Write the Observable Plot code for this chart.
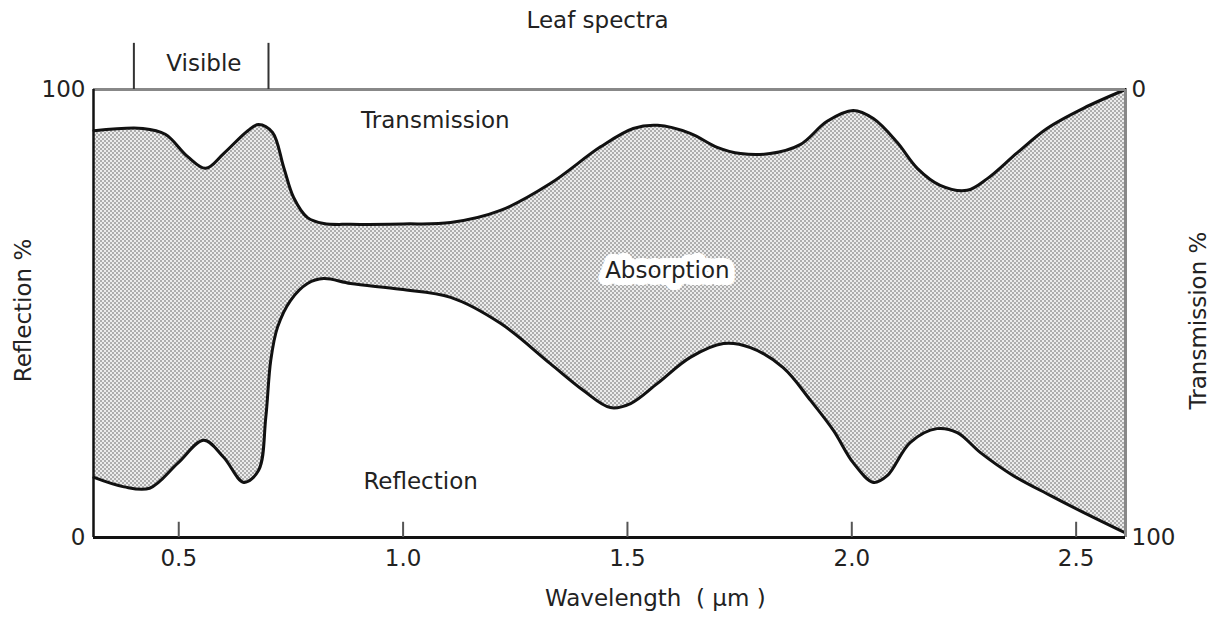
<!DOCTYPE html>
<html>
<head>
<meta charset="utf-8">
<script src="https://cdn.jsdelivr.net/npm/d3@7"></script>
<script src="https://cdn.jsdelivr.net/npm/@observablehq/plot@0.6"></script>
<style>
  body { margin: 0; background: white; font-family: "DejaVu Sans", sans-serif; }
  #title { height: 40px; line-height: 40px; font-size: 23px; text-align: center; padding-right: 26px; color: #222; }
</style>
</head>
<body>
<div id="title">Leaf spectra</div>
<div id="chart"></div>
<script>
// Upper boundary: transmission % (read on the right axis, 100 at bottom)
const transWl = [0.311,0.420,0.470,0.520,0.560,0.600,0.654,0.678,0.709,0.734,0.756,0.787,0.823,0.883,1.0,1.106,1.217,1.328,1.440,1.513,1.567,1.640,1.700,1.752,1.818,1.885,1.945,2.003,2.048,2.101,2.146,2.197,2.257,2.302,2.369,2.435,2.516,2.61];
const transPct = [9.2,8.7,10.0,15.0,17.6,14.3,9.2,7.8,9.6,17.4,24.1,28.6,29.9,30.1,30.0,29.7,27.0,21.0,12.8,8.7,8.0,9.8,12.9,14.3,14.3,12.3,7.1,4.7,6.5,11.8,17.6,21.4,22.5,19.9,14.1,8.7,4.2,0];
// Lower boundary: reflection % (left axis)
const reflWl = [0.311,0.378,0.435,0.498,0.556,0.600,0.645,0.678,0.694,0.705,0.720,0.749,0.787,0.823,0.883,0.994,1.106,1.217,1.328,1.402,1.462,1.507,1.567,1.640,1.714,1.774,1.847,1.908,1.959,2.003,2.048,2.079,2.130,2.190,2.235,2.286,2.360,2.442,2.516,2.61];
const reflPct = [13.4,11.3,11.0,16.6,21.7,17.9,12.3,15.0,26.8,39.5,46.9,52.9,56.7,57.8,56.7,55.4,53.6,47.8,38.8,32.8,29.0,29.9,34.4,40.2,43.3,42.4,37.9,30.6,23.9,16.7,12.3,13.8,21.2,24.3,23.4,19.0,13.8,9.4,5.6,1.0];

const xDomain = [0.31, 2.61];
const xTicks = [0.5, 1.0, 1.5, 2.0, 2.5];
const yTicks = [0, 100];
const visibleBand = [0.4, 0.7];

const labels = [
  {text: "Transmission", wl: 1.072, pct: 93.1},
  {text: "Reflection", wl: 1.039, pct: 12.5},
  {text: "Visible", wl: 0.556, pct: 105.8}
];
const absorptionLabel = [{text: "Absorption", wl: 1.589, pct: 59.6}];
const xLabel = [{text: "Wavelength  ( μm )", wl: 1.562}];

const upper = transWl.map((w, i) => ({wl: w, y: 100 - transPct[i]}));
const lower = reflWl.map((w, i) => ({wl: w, y: reflPct[i]}));

const curve = "catmull-rom";

const chart = Plot.plot({
  width: 1221, height: 582,
  marginTop: 49, marginBottom: 85, marginLeft: 93, marginRight: 96,
  x: {domain: xDomain},
  y: {domain: [0, 100]},
  style: {fontFamily: "DejaVu Sans, sans-serif", fontSize: "23px", color: "#222", background: "white"},
  marks: [
    Plot.areaY(upper, {x: "wl", y: "y", fill: "url(#checker)", curve}),
    Plot.areaY(lower, {x: "wl", y: "y", fill: "white", curve}),
    Plot.line(upper, {x: "wl", y: "y", stroke: "#111", strokeWidth: 3, curve}),
    Plot.line(lower, {x: "wl", y: "y", stroke: "#111", strokeWidth: 3, curve}),
    Plot.ruleY([100], {stroke: "#888", strokeWidth: 3}),
    Plot.ruleX([xDomain[1]], {stroke: "#888", strokeWidth: 3}),
    Plot.ruleX([xDomain[0]], {stroke: "#111", strokeWidth: 2.5}),
    Plot.ruleY([0], {stroke: "#111", strokeWidth: 3}),
    Plot.ruleX(xTicks, {y1: 0, y2: 3.4, stroke: "#555", strokeWidth: 2}),
    Plot.ruleX(visibleBand, {y1: 100, y2: 110.3, stroke: "#333", strokeWidth: 2}),
    Plot.axisX({ticks: xTicks, tickSize: 0, tickPadding: 12, tickFormat: d3.format(".1f"), label: null}),
    Plot.axisY({anchor: "left", ticks: yTicks, tickSize: 0, tickPadding: 8, label: null}),
    Plot.axisY({anchor: "right", ticks: yTicks, tickSize: 0, tickPadding: 6, tickFormat: d => 100 - d, label: null}),
    Plot.text(labels, {x: "wl", y: "pct", text: "text", fill: "#222"}),
    Plot.text(absorptionLabel, {x: "wl", y: "pct", text: "text", fill: "#222", stroke: "white", strokeWidth: 14, strokeLinejoin: "round"}),
    Plot.text(xLabel, {x: "wl", text: "text", frameAnchor: "bottom", dy: 68, fill: "#222"}),
    Plot.text(["Reflection %"], {text: d => d, frameAnchor: "left", textAnchor: "middle", dx: -70, dy: -3, rotate: -90, fill: "#222"}),
    Plot.text(["Transmission %"], {text: d => d, frameAnchor: "right", textAnchor: "middle", dx: 73, dy: 7, rotate: -90, fill: "#222"})
  ]
});

const svg = d3.select(chart);
const defs = svg.insert("defs", ":first-child");
const pat = defs.append("pattern").attr("id", "checker").attr("patternUnits", "userSpaceOnUse")
  .attr("width", 4).attr("height", 4);
pat.append("rect").attr("width", 4).attr("height", 4).attr("fill", "#ececec");
pat.append("rect").attr("x", 0).attr("y", 0).attr("width", 2).attr("height", 2).attr("fill", "#adadad");
pat.append("rect").attr("x", 2).attr("y", 2).attr("width", 2).attr("height", 2).attr("fill", "#adadad");

document.getElementById("chart").appendChild(chart);
</script>
</body>
</html>
